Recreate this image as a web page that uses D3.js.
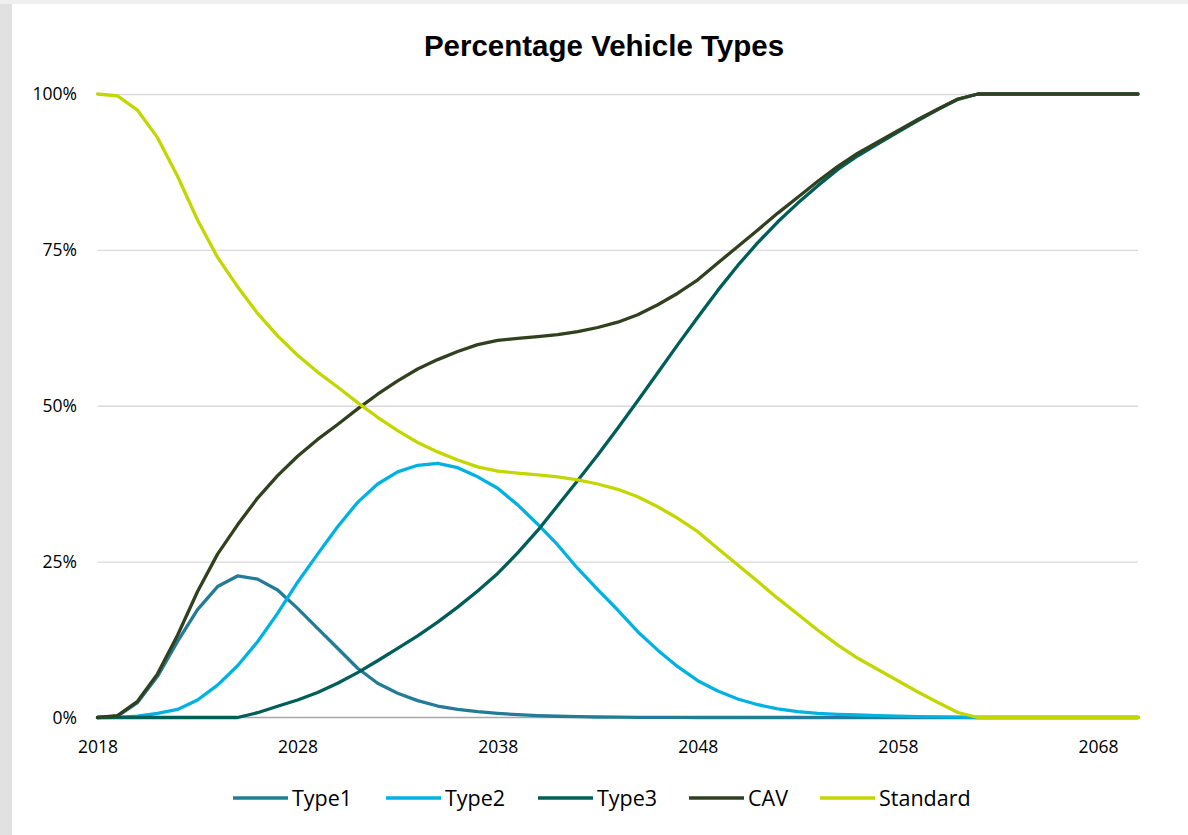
<!DOCTYPE html>
<html>
<head>
<meta charset="utf-8">
<script src="https://cdn.jsdelivr.net/npm/d3@7"></script>
<style>
  html, body { margin: 0; padding: 0; background: #ffffff; }
  svg { display: block; }
</style>
</head>
<body>
<svg id="chart" width="1188" height="835"></svg>
<script>
// ---- DATA ----
const years = [2018,2019,2020,2021,2022,2023,2024,2025,2026,2027,2028,2029,2030,2031,2032,2033,2034,2035,2036,2037,2038,2039,2040,2041,2042,2043,2044,2045,2046,2047,2048,2049,2050,2051,2052,2053,2054,2055,2056,2057,2058,2059,2060,2061,2062,2063,2064,2065,2066,2067,2068,2069,2070];

const type1 = [0,0.002,0.024,0.066,0.122,0.173,0.210,0.227,0.222,0.2045,0.175,0.143,0.111,0.079,0.055,0.039,0.027,0.0184,0.013,0.0093,0.0067,0.0045,0.003,0.002,0.0013,0.0008,0.0005,0.0003,0.0002,0.0001,
  0,0,0,0,0,0,0,0,0,0,0,0,0,0,0,0,0,0,0,0,0,0,0];

const type2 = [0,0.0003,0.002,0.0067,0.013,0.028,0.052,0.083,0.1216,0.167,0.217,0.262,0.306,0.345,0.3745,0.394,0.4045,0.4077,0.4007,0.386,0.3676,0.341,0.31,0.2767,0.239,0.205,0.1724,0.1376,0.108,0.0815,0.059,0.0425,0.0297,0.0205,0.014,0.0093,0.0067,0.005,0.004,0.003,0.002,0.0015,0.001,0.0005,
  0,0,0,0,0,0,0,0,0];

const type3 = [0,0,0,0,0,0,0,0,0.0077,0.018,0.028,0.040,0.055,0.072,0.091,0.111,0.131,0.153,0.177,0.203,0.231,0.264,0.300,0.340,0.380,0.421,0.464,0.508,0.553,0.598,0.642,0.685,0.725,0.7615,0.795,0.825,0.853,0.879,0.901,0.920,0.939,0.9575,0.975,0.9915,
  1,1,1,1,1,1,1,1,1];

const cav = [0,0.003,0.026,0.070,0.132,0.202,0.262,0.309,0.352,0.388,0.419,0.446,0.470,0.495,0.5185,0.540,0.559,0.574,0.587,0.598,0.605,0.608,0.611,0.614,0.619,0.6255,0.634,0.646,0.662,0.6805,0.702,0.729,0.7554,0.782,0.809,0.8345,0.860,0.884,0.905,0.923,0.941,0.959,0.976,0.992,
  1,1,1,1,1,1,1,1,1];

const standard = [1.0,0.997,0.974,0.930,0.868,0.798,0.738,0.691,0.648,0.612,0.581,0.554,0.530,0.505,0.4815,0.460,0.441,0.426,0.413,0.402,0.395,0.392,0.389,0.386,0.381,0.3745,0.366,0.354,0.338,0.3195,0.298,0.271,0.2446,0.218,0.191,0.1655,0.140,0.116,0.095,0.077,0.059,0.041,0.024,0.008,
  0,0,0,0,0,0,0,0,0];

const seriesNames = ["Type1","Type2","Type3","CAV","Standard"];
const seriesColors = ["#237b96","#00b2e2","#005e58","#31401f","#c4d600"];
const yTicks = [0,0.25,0.5,0.75,1];
const xTickLabels = [2018,2028,2038,2048,2058,2068];
const titleText = "Percentage Vehicle Types";

// ---- CHART ----
const svg = d3.select("#chart");
const W = 1188, H = 835;

// background frame
svg.append("rect").attr("x",0).attr("y",0).attr("width",W).attr("height",H).attr("fill","#efefef");
svg.append("rect").attr("x",0).attr("y",4).attr("width",12).attr("height",H-4).attr("fill","#e1e1e1");
svg.append("rect").attr("x",12).attr("y",4).attr("width",W-12).attr("height",H-4).attr("fill","#ffffff");

const x = d3.scaleLinear().domain([2018,2070]).range([97.5,1138]);
const y = d3.scaleLinear().domain([0,1]).range([717.5,94]);

// gridlines
svg.append("g")
  .attr("transform","translate(97.5,0)")
  .call(d3.axisLeft(y).tickValues(yTicks.filter(d=>d>0)).tickSize(-(1138-97.5)).tickFormat(""))
  .call(g=>g.select(".domain").remove())
  .call(g=>g.selectAll("line").attr("stroke","#d9d9d9").attr("stroke-width",1.3));

// zero axis line
svg.append("line").attr("x1",97.5).attr("x2",1138).attr("y1",y(0)).attr("y2",y(0))
  .attr("stroke","#a6a6a6").attr("stroke-width",1.3);

// y-axis labels
svg.append("g")
  .attr("transform","translate(77,0)")
  .call(d3.axisLeft(y).tickValues(yTicks).tickSize(0).tickPadding(0).tickFormat(d3.format(".0%")))
  .call(g=>g.select(".domain").remove())
  .call(g=>g.selectAll("text").attr("font-family","'Open Sans', sans-serif").attr("font-size",17.5).attr("fill","#000").attr("dy","0.34em"));

// x-axis labels
svg.append("g")
  .attr("transform",`translate(0,${y(0)})`)
  .call(d3.axisBottom(x).tickValues(xTickLabels).tickSize(0).tickPadding(0).tickFormat(d3.format("d")))
  .call(g=>g.select(".domain").remove())
  .call(g=>g.selectAll("text").attr("font-family","'Open Sans', sans-serif").attr("font-size",17.5).attr("fill","#000").attr("dy",null).attr("y",35.5));

// lines
const allSeries = [type1,type2,type3,cav,standard];
const line = d3.line().x((d,i)=>x(years[i])).y(d=>y(d));
allSeries.forEach((s,k)=>{
  svg.append("path").datum(s)
    .attr("d",line)
    .attr("fill","none")
    .attr("stroke",seriesColors[k])
    .attr("stroke-width",3.3)
    .attr("stroke-linejoin","round")
    .attr("stroke-linecap","round");
});

// title
svg.append("text").attr("x",604).attr("y",56).attr("text-anchor","middle")
  .attr("font-family","'Liberation Sans', Arial, sans-serif").attr("font-weight","bold")
  .attr("font-size",29.5).attr("fill","#000").text(titleText);

// legend
const legendX = [233,386,538,689,820];
const lg = svg.append("g");
seriesNames.forEach((n,k)=>{
  const gx = legendX[k];
  lg.append("line").attr("x1",gx).attr("x2",gx+55).attr("y1",798).attr("y2",798)
    .attr("stroke",seriesColors[k]).attr("stroke-width",3.6);
  lg.append("text").attr("x",gx+59).attr("y",806).attr("font-family","'Open Sans', sans-serif")
    .attr("font-size",21.5).attr("fill","#000").text(n);
});
</script>
</body>
</html>
